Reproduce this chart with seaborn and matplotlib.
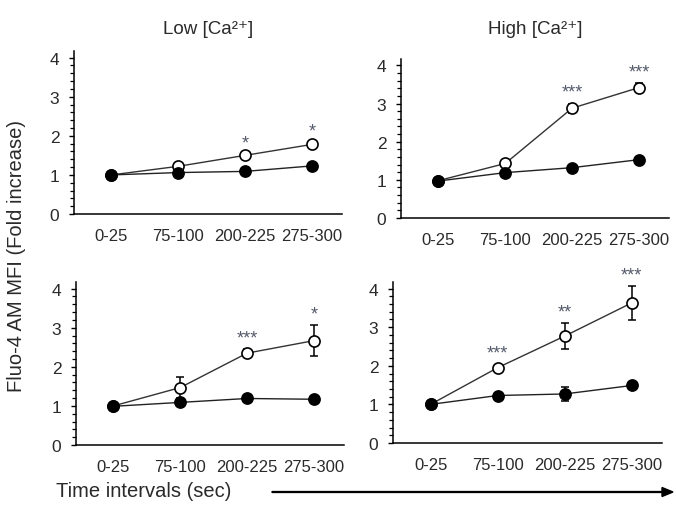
import numpy as np
import pandas as pd
import matplotlib
matplotlib.use("Agg")
import matplotlib.pyplot as plt
import seaborn as sns
from matplotlib.ticker import MultipleLocator

sns.set_theme(style="white")
plt.rcParams['font.family'] = ['Liberation Sans', 'DejaVu Sans']

categories = ['0-25', '75-100', '200-225', '275-300']
titles = ['Low [Ca²⁺]', 'High [Ca²⁺]']
ylabel = 'Fluo-4 AM MFI (Fold increase)'
xlabel = 'Time intervals (sec)'

# top row
low_top_open = [1.00, 1.22, 1.50, 1.78]
low_top_open_err = [0.0, 0.08, 0.04, 0.05]
low_top_closed = [1.00, 1.06, 1.09, 1.23]
low_top_closed_err = [0.0, 0.04, 0.04, 0.06]
low_top_stars = ['', '', '*', '*']

high_top_open = [0.98, 1.43, 2.88, 3.42]
high_top_open_err = [0.0, 0.05, 0.12, 0.12]
high_top_closed = [0.97, 1.19, 1.32, 1.53]
high_top_closed_err = [0.03, 0.04, 0.04, 0.05]
high_top_stars = ['', '', '***', '***']

# bottom row
low_bot_open = [1.00, 1.47, 2.35, 2.67]
low_bot_open_err = [0.0, 0.26, 0.10, 0.40]
low_bot_closed = [0.99, 1.09, 1.19, 1.17]
low_bot_closed_err = [0.0, 0.05, 0.04, 0.04]
low_bot_stars = ['', '', '***', '*']

high_bot_open = [1.00, 1.95, 2.77, 3.63]
high_bot_open_err = [0.0, 0.08, 0.33, 0.44]
high_bot_closed = [1.00, 1.23, 1.27, 1.49]
high_bot_closed_err = [0.0, 0.04, 0.17, 0.08]
high_bot_stars = ['', '***', '**', '***']

W, H = 676, 506
fig = plt.figure(figsize=(W / 100, H / 100), dpi=100)

def px_axes(left, right, bottom, top):
    return fig.add_axes([left / W, (H - bottom) / H, (right - left) / W, (bottom - top) / H])

panels = [
    (px_axes(74, 342, 215, 52), low_top_open, low_top_open_err, low_top_closed, low_top_closed_err, low_top_stars, titles[0]),
    (px_axes(401, 669, 219, 60), high_top_open, high_top_open_err, high_top_closed, high_top_closed_err, high_top_stars, titles[1]),
    (px_axes(76, 344, 446, 283), low_bot_open, low_bot_open_err, low_bot_closed, low_bot_closed_err, low_bot_stars, None),
    (px_axes(393, 662, 444, 283), high_bot_open, high_bot_open_err, high_bot_closed, high_bot_closed_err, high_bot_stars, None),
]

text_col = '#2a2a2a'
xpos = np.arange(len(categories))

for i, (ax, op, ope, cl, cle, stars, title) in enumerate(panels):
    df = pd.DataFrame({
        'x': np.concatenate([xpos, xpos]),
        'y': op + cl,
        'group': ['open'] * len(op) + ['closed'] * len(cl),
    })
    ax.errorbar(xpos, op, yerr=ope, fmt='none', ecolor='black', elinewidth=1.1,
                capsize=3.2, capthick=1.1, zorder=2)
    ax.errorbar(xpos, cl, yerr=cle, fmt='none', ecolor='black', elinewidth=1.1,
                capsize=3.2, capthick=1.1, zorder=4)
    sns.lineplot(data=df[df.group == 'open'], x='x', y='y', ax=ax, color='#333333',
                 linewidth=1.0, marker='o', markersize=8, markerfacecolor='white',
                 markeredgecolor='black', markeredgewidth=1.2, zorder=3, legend=False)
    sns.lineplot(data=df[df.group == 'closed'], x='x', y='y', ax=ax, color='#222222',
                 linewidth=1.0, marker='o', markersize=8.2, markerfacecolor='black',
                 markeredgecolor='black', markeredgewidth=1.0, zorder=5, legend=False)
    for xi, v, e, s in zip(xpos, op, ope, stars):
        if s:
            ax.annotate(s, xy=(xi, v + e), xytext=(0, 2), textcoords='offset points',
                        ha='center', va='bottom', fontsize=13, color='#555b6b')
    ax.set_xlim(-0.56, 3.45)
    ax.set_ylim(0, 4.17)
    ax.set_xticks(xpos)
    ax.set_xticklabels(categories)
    ax.set_yticks([0, 1, 2, 3, 4])
    ax.yaxis.set_minor_locator(MultipleLocator(0.2))
    ax.set_xlabel('')
    ax.set_ylabel('')
    ax.tick_params(axis='x', length=0, pad=10, labelsize=12, labelcolor=text_col)
    ax.tick_params(axis='y', which='major', direction='out', length=3.5, width=1,
                   color='black', pad=7, labelsize=12.5, labelcolor=text_col, left=True)
    ax.tick_params(axis='y', which='minor', direction='out', length=3, width=0.9,
                   color='black', left=True)
    for sp in ['top', 'right']:
        ax.spines[sp].set_visible(False)
    for sp in ['left', 'bottom']:
        ax.spines[sp].set_color('black')
        ax.spines[sp].set_linewidth(1.1)
    ax.grid(False)
    ax.set_facecolor('white')
    if title:
        ax.set_title(title, fontsize=13.5, color=text_col, pad=[13, 19][i])

fig.text(17 / W, 1 - 256 / H, ylabel, rotation=90, ha='center', va='center',
         fontsize=14.5, color=text_col)
fig.text(144 / W, 1 - 492 / H, xlabel, ha='center', va='center', fontsize=14.5, color=text_col)
fig.patches.append(matplotlib.patches.FancyArrow(
    272 / W, 1 - 493 / H, (673 - 272) / W, 0, width=0.9 / H, head_width=9 / H,
    head_length=11 / W, length_includes_head=True, color='black',
    transform=fig.transFigure, figure=fig))

fig.savefig('out.png', dpi=100, facecolor='white')
